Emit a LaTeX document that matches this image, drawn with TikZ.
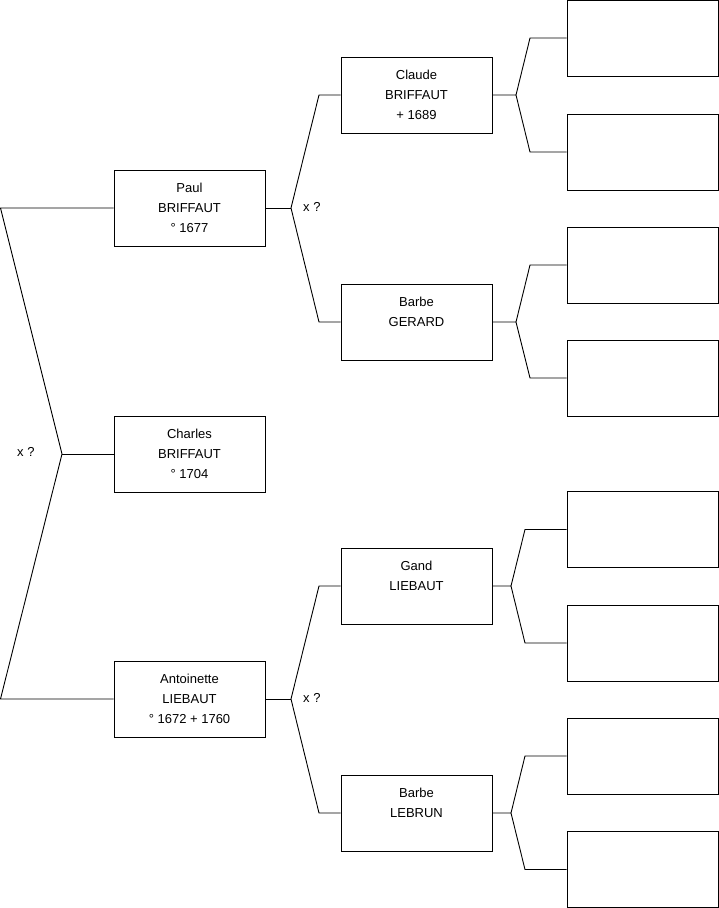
\documentclass[tikz,border=0pt]{standalone}
\usepackage{fontspec}
\setmainfont{Liberation Sans}
\tikzset{
  person/.style={draw,line width=0.9pt,minimum width=151pt,minimum height=76pt,
    inner sep=0pt,align=center,font=\fontsize{13}{20}\selectfont},
  link/.style={line width=0.9pt},
  union/.style={anchor=west,inner sep=0pt,font=\fontsize{13}{16}\selectfont}
}
\begin{document}
\begin{tikzpicture}[x=1pt,y=-1pt]
  \useasboundingbox (0,0) rectangle (719,908);
  % generation 1
  \node[person] (paul) at (189.5,208) {Paul\\BRIFFAUT\\° 1677};
  \node[person] (charles) at (189.5,454) {Charles\\BRIFFAUT\\° 1704};
  \node[person] (antoinette) at (189.5,699) {Antoinette\\LIEBAUT\\° 1672 + 1760};
  % generation 2
  \node[person] (claude) at (416.5,95) {Claude\\BRIFFAUT\\+ 1689};
  \node[person] (gerard) at (416.5,322) {Barbe\\GERARD\\~};
  \node[person] (gand) at (416.5,586) {Gand\\LIEBAUT\\~};
  \node[person] (lebrun) at (416.5,813) {Barbe\\LEBRUN\\~};
  % generation 3 (empty)
  \foreach \n/\y in {1/38,2/152,3/265,4/378,5/529.5,6/643,7/756,8/869.5}
    \node[person] (e\n) at (642.5,\y) {};
  % branch points
  \coordinate (pl) at (0.5,208);
  \coordinate (al) at (0.5,699);
  \coordinate (j0) at (62,454);
  \coordinate (j1) at (291,208);
  \coordinate (j2) at (291,699);
  \coordinate (c1) at (319,95);
  \coordinate (c2) at (319,322);
  \coordinate (c3) at (319,586);
  \coordinate (c4) at (319,813);
  \draw[link] (paul.west)--(pl)--(j0)--(al)--(antoinette.west);
  \draw[link] (j0)--(charles.west);
  \draw[link] (paul.east)--(j1);
  \draw[link] (claude.west)--(c1)--(j1)--(c2)--(gerard.west);
  \draw[link] (antoinette.east)--(j2);
  \draw[link] (gand.west)--(c3)--(j2)--(c4)--(lebrun.west);
  % grandparents
  \foreach \p/\a/\b/\x in {claude/e1/e2/516,gerard/e3/e4/516,gand/e5/e6/511,lebrun/e7/e8/511}
    \draw[link] (\p.east)--(\x,0 |- \p.east) coordinate (k)
      (\a.west)--(\x+14,0 |- \a.west)--(k)--(\x+14,0 |- \b.west)--(\b.west);
  \node[union] (x0) at (17,452) {x ?};
  \node[union] (x1) at (303,207) {x ?};
  \node[union] (x2) at (303,698) {x ?};
\end{tikzpicture}
\end{document}
